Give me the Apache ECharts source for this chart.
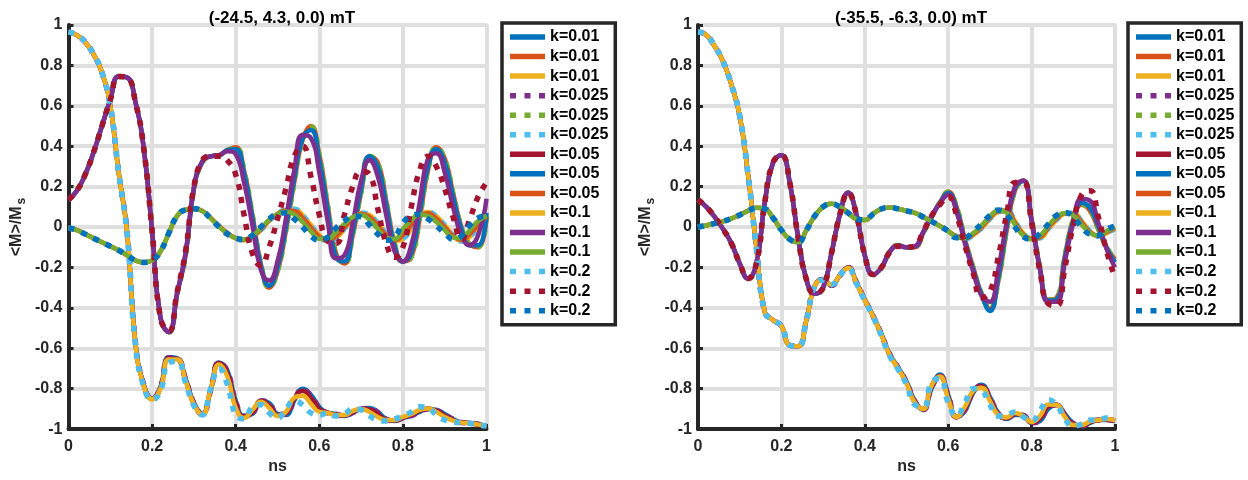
<!DOCTYPE html>
<html><head><meta charset="utf-8">
<script src="https://cdn.jsdelivr.net/npm/echarts@6/dist/echarts.min.js"></script>
<style>html,body{margin:0;padding:0;background:#fff}#c{width:1248px;height:480px}</style>
</head><body><div id="c"></div>
<script>
// time grid (ns)
const T = [0,0.02,0.04,0.06,0.08,0.10,0.12,0.14,0.16,0.18,0.20,0.22,0.24,0.26,0.28,0.30,0.32,0.34,0.36,0.38,0.40,0.42,0.44,0.46,0.48,0.50,0.52,0.54,0.56,0.58,0.60,0.62,0.64,0.66,0.68,0.70,0.72,0.74,0.76,0.78,0.80,0.82,0.84,0.86,0.88,0.90,0.92,0.94,0.96,0.98,1.00];
const TITLES = ['(-24.5, 4.3, 0.0) mT','(-35.5, -6.3, 0.0) mT'];
const LABELS = ['k=0.01','k=0.01','k=0.01','k=0.025','k=0.025','k=0.025','k=0.05','k=0.05','k=0.05','k=0.1','k=0.1','k=0.1','k=0.2','k=0.2','k=0.2'];

// ---------- LEFT panel ----------
const L_MX_001 = [0.965,0.950,0.915,0.855,0.765,0.600,0.270,-0.020,-0.570,-0.780,-0.850,-0.790,-0.645,-0.650,-0.750,-0.870,-0.925,-0.810,-0.670,-0.710,-0.860,-0.935,-0.925,-0.860,-0.870,-0.925,-0.930,-0.860,-0.800,-0.830,-0.890,-0.920,-0.925,-0.935,-0.920,-0.900,-0.895,-0.915,-0.950,-0.960,-0.945,-0.935,-0.915,-0.900,-0.905,-0.925,-0.950,-0.967,-0.970,-0.975,-0.985];
const L_MY_001 = [0.135,0.180,0.260,0.370,0.500,0.630,0.745,0.740,0.620,0.390,-0.020,-0.450,-0.520,-0.330,-0.140,0.190,0.320,0.350,0.355,0.380,0.395,0.280,0.060,-0.180,-0.300,-0.220,-0.020,0.220,0.430,0.500,0.360,0.110,-0.130,-0.180,-0.040,0.170,0.350,0.320,0.130,-0.080,-0.170,-0.150,0.040,0.280,0.395,0.340,0.170,0.000,-0.085,-0.100,0.050];
const L_MZ_001 = [-0.005,-0.015,-0.035,-0.055,-0.075,-0.095,-0.115,-0.140,-0.165,-0.175,-0.165,-0.120,-0.030,0.055,0.085,0.090,0.080,0.045,0.005,-0.030,-0.055,-0.065,-0.050,-0.015,0.030,0.065,0.085,0.090,0.060,0.010,-0.040,-0.070,-0.055,-0.010,0.040,0.070,0.060,0.020,-0.030,-0.070,-0.060,-0.010,0.050,0.075,0.055,0.010,-0.040,-0.070,-0.050,0.000,0.050];
const L_MX_0025 = [0.965,0.950,0.915,0.855,0.765,0.600,0.270,-0.020,-0.570,-0.780,-0.850,-0.792,-0.647,-0.651,-0.752,-0.872,-0.926,-0.809,-0.671,-0.715,-0.865,-0.937,-0.922,-0.860,-0.873,-0.927,-0.927,-0.857,-0.803,-0.835,-0.893,-0.920,-0.926,-0.934,-0.918,-0.900,-0.898,-0.918,-0.951,-0.959,-0.944,-0.933,-0.913,-0.900,-0.907,-0.928,-0.952,-0.967,-0.970,-0.976,-0.985];
const L_MY_0025 = [0.135,0.180,0.260,0.370,0.500,0.630,0.745,0.740,0.620,0.390,-0.020,-0.450,-0.520,-0.328,-0.138,0.190,0.320,0.350,0.355,0.380,0.392,0.275,0.055,-0.183,-0.298,-0.215,-0.015,0.225,0.433,0.495,0.352,0.102,-0.136,-0.178,-0.034,0.177,0.351,0.314,0.123,-0.085,-0.170,-0.145,0.048,0.287,0.393,0.334,0.163,-0.004,-0.087,-0.097,0.057];
const L_MZ_0025 = [-0.005,-0.015,-0.035,-0.055,-0.075,-0.095,-0.115,-0.140,-0.165,-0.175,-0.165,-0.120,-0.030,0.055,0.085,0.090,0.080,0.045,0.005,-0.030,-0.055,-0.065,-0.050,-0.014,0.032,0.066,0.085,0.088,0.057,0.006,-0.043,-0.069,-0.053,-0.007,0.042,0.069,0.058,0.017,-0.033,-0.069,-0.057,-0.006,0.052,0.074,0.052,0.007,-0.043,-0.069,-0.047,0.004,0.052];
const L_MX_005 = [0.965,0.950,0.915,0.855,0.765,0.600,0.270,-0.022,-0.572,-0.782,-0.851,-0.795,-0.650,-0.652,-0.755,-0.875,-0.927,-0.807,-0.673,-0.722,-0.875,-0.940,-0.918,-0.861,-0.880,-0.930,-0.922,-0.852,-0.810,-0.845,-0.900,-0.919,-0.927,-0.933,-0.915,-0.900,-0.902,-0.925,-0.953,-0.958,-0.943,-0.930,-0.910,-0.899,-0.910,-0.932,-0.955,-0.968,-0.970,-0.977,-0.985];
const L_MY_005 = [0.135,0.180,0.260,0.370,0.500,0.630,0.745,0.740,0.620,0.390,-0.020,-0.450,-0.520,-0.328,-0.135,0.192,0.322,0.350,0.355,0.380,0.385,0.265,0.045,-0.190,-0.290,-0.200,0.000,0.240,0.440,0.480,0.330,0.085,-0.150,-0.170,-0.020,0.190,0.350,0.300,0.110,-0.095,-0.170,-0.130,0.070,0.300,0.385,0.320,0.150,-0.010,-0.090,-0.090,0.070];
const L_MZ_005 = [-0.005,-0.015,-0.035,-0.055,-0.075,-0.095,-0.115,-0.140,-0.165,-0.175,-0.165,-0.120,-0.030,0.055,0.085,0.090,0.080,0.045,0.005,-0.030,-0.055,-0.064,-0.048,-0.012,0.033,0.065,0.082,0.080,0.047,-0.002,-0.047,-0.066,-0.045,-0.002,0.044,0.066,0.050,0.008,-0.040,-0.066,-0.040,0.010,0.055,0.068,0.042,0.000,-0.045,-0.064,-0.035,0.012,0.052];
const L_MX_01 = [0.965,0.950,0.915,0.855,0.765,0.600,0.270,-0.025,-0.575,-0.785,-0.852,-0.800,-0.655,-0.655,-0.760,-0.878,-0.928,-0.805,-0.680,-0.740,-0.895,-0.945,-0.905,-0.865,-0.895,-0.935,-0.915,-0.845,-0.835,-0.875,-0.915,-0.920,-0.930,-0.930,-0.910,-0.900,-0.915,-0.940,-0.955,-0.955,-0.940,-0.925,-0.905,-0.898,-0.915,-0.940,-0.958,-0.968,-0.971,-0.978,-0.985];
const L_MY_01 = [0.135,0.180,0.260,0.370,0.500,0.630,0.745,0.740,0.620,0.390,-0.020,-0.450,-0.520,-0.325,-0.130,0.195,0.325,0.350,0.355,0.375,0.360,0.220,0.010,-0.210,-0.265,-0.170,0.040,0.280,0.455,0.440,0.270,0.030,-0.155,-0.140,0.020,0.230,0.330,0.250,0.060,-0.120,-0.170,-0.090,0.120,0.340,0.365,0.270,0.100,-0.040,-0.090,-0.040,0.140];
const L_MZ_01 = [-0.005,-0.015,-0.035,-0.055,-0.075,-0.095,-0.115,-0.140,-0.165,-0.175,-0.165,-0.120,-0.030,0.055,0.085,0.090,0.079,0.043,0.002,-0.033,-0.055,-0.062,-0.044,-0.006,0.036,0.065,0.077,0.062,0.025,-0.022,-0.058,-0.058,-0.025,0.015,0.050,0.060,0.035,-0.010,-0.052,-0.060,-0.010,0.035,0.062,0.055,0.025,-0.015,-0.052,-0.055,-0.015,0.030,0.055];
const L_MX_02 = [0.965,0.950,0.915,0.855,0.765,0.600,0.270,-0.030,-0.580,-0.790,-0.855,-0.810,-0.670,-0.665,-0.770,-0.885,-0.930,-0.800,-0.700,-0.780,-0.930,-0.950,-0.890,-0.880,-0.920,-0.945,-0.900,-0.860,-0.880,-0.920,-0.930,-0.920,-0.935,-0.925,-0.900,-0.905,-0.935,-0.955,-0.960,-0.950,-0.935,-0.915,-0.890,-0.895,-0.930,-0.955,-0.965,-0.970,-0.972,-0.980,-0.985];
const L_MY_02 = [0.135,0.180,0.260,0.370,0.500,0.630,0.745,0.740,0.620,0.390,-0.020,-0.450,-0.515,-0.320,-0.120,0.200,0.330,0.350,0.350,0.330,0.260,0.060,-0.130,-0.190,-0.100,0.040,0.190,0.350,0.400,0.250,0.060,-0.070,-0.080,0.060,0.200,0.275,0.260,0.090,-0.080,-0.150,-0.100,0.100,0.280,0.350,0.300,0.190,0.050,-0.060,0.040,0.150,0.220];
const L_MZ_02 = [-0.005,-0.015,-0.035,-0.055,-0.075,-0.095,-0.115,-0.140,-0.165,-0.175,-0.165,-0.120,-0.030,0.055,0.085,0.090,0.078,0.042,0.000,-0.035,-0.055,-0.060,-0.040,0.000,0.040,0.065,0.070,0.040,0.000,-0.045,-0.065,-0.050,-0.005,0.030,0.055,0.050,0.010,-0.035,-0.065,-0.050,0.020,0.055,0.063,0.040,0.005,-0.030,-0.060,-0.045,0.010,0.045,0.055];

// ---------- RIGHT panel ----------
const R_MX_001 = [0.965,0.950,0.895,0.820,0.705,0.550,0.260,-0.100,-0.420,-0.460,-0.490,-0.585,-0.590,-0.460,-0.290,-0.260,-0.288,-0.240,-0.200,-0.275,-0.360,-0.440,-0.530,-0.630,-0.695,-0.765,-0.860,-0.905,-0.800,-0.730,-0.830,-0.940,-0.910,-0.820,-0.780,-0.840,-0.920,-0.950,-0.930,-0.930,-0.970,-0.960,-0.900,-0.880,-0.925,-0.970,-0.985,-0.970,-0.955,-0.955,-0.960];
const R_MY_001 = [0.135,0.100,0.050,-0.010,-0.080,-0.180,-0.255,-0.180,0.120,0.320,0.355,0.220,-0.050,-0.260,-0.330,-0.300,-0.130,0.060,0.170,0.060,-0.140,-0.235,-0.200,-0.120,-0.090,-0.100,-0.100,-0.030,0.050,0.120,0.175,0.100,-0.060,-0.200,-0.330,-0.405,-0.270,-0.020,0.180,0.230,0.040,-0.200,-0.360,-0.350,-0.140,0.040,0.110,0.080,-0.010,-0.100,-0.160];
const R_MZ_001 = [0.000,0.008,0.018,0.028,0.042,0.060,0.080,0.095,0.090,0.045,-0.015,-0.060,-0.075,-0.015,0.055,0.100,0.115,0.100,0.070,0.040,0.035,0.065,0.090,0.097,0.090,0.080,0.070,0.050,0.028,0.005,-0.020,-0.045,-0.058,-0.040,-0.005,0.040,0.075,0.085,0.030,-0.030,-0.055,-0.055,-0.010,0.035,0.065,0.070,0.030,-0.020,-0.045,-0.030,-0.010];
const R_MX_0025 = [0.965,0.950,0.895,0.820,0.705,0.550,0.260,-0.100,-0.420,-0.460,-0.490,-0.585,-0.590,-0.460,-0.290,-0.260,-0.288,-0.240,-0.200,-0.275,-0.360,-0.441,-0.532,-0.631,-0.697,-0.768,-0.863,-0.903,-0.795,-0.735,-0.835,-0.940,-0.905,-0.817,-0.783,-0.845,-0.923,-0.948,-0.928,-0.932,-0.969,-0.955,-0.895,-0.880,-0.930,-0.973,-0.984,-0.968,-0.955,-0.954,-0.959];
const R_MY_0025 = [0.135,0.100,0.050,-0.010,-0.080,-0.180,-0.255,-0.180,0.120,0.320,0.355,0.220,-0.050,-0.260,-0.330,-0.300,-0.130,0.060,0.170,0.060,-0.140,-0.235,-0.200,-0.121,-0.091,-0.100,-0.098,-0.028,0.051,0.120,0.172,0.096,-0.065,-0.204,-0.332,-0.405,-0.262,-0.012,0.185,0.229,0.036,-0.203,-0.361,-0.352,-0.145,0.037,0.113,0.085,-0.007,-0.101,-0.165];
const R_MZ_0025 = [0.000,0.008,0.018,0.028,0.042,0.060,0.080,0.095,0.090,0.045,-0.015,-0.060,-0.075,-0.015,0.055,0.100,0.115,0.100,0.070,0.040,0.035,0.065,0.090,0.097,0.090,0.080,0.070,0.050,0.028,0.005,-0.020,-0.046,-0.057,-0.038,-0.003,0.042,0.076,0.083,0.027,-0.033,-0.056,-0.053,-0.007,0.038,0.066,0.068,0.027,-0.022,-0.045,-0.028,-0.008];
const R_MX_005 = [0.965,0.950,0.895,0.820,0.705,0.550,0.260,-0.100,-0.420,-0.460,-0.490,-0.585,-0.590,-0.460,-0.290,-0.260,-0.288,-0.240,-0.200,-0.275,-0.360,-0.442,-0.533,-0.633,-0.698,-0.770,-0.866,-0.902,-0.790,-0.737,-0.840,-0.941,-0.900,-0.814,-0.788,-0.850,-0.926,-0.946,-0.925,-0.933,-0.967,-0.948,-0.888,-0.880,-0.934,-0.976,-0.983,-0.966,-0.955,-0.953,-0.958];
const R_MY_005 = [0.135,0.100,0.050,-0.010,-0.080,-0.180,-0.255,-0.180,0.120,0.320,0.355,0.220,-0.050,-0.260,-0.330,-0.300,-0.130,0.060,0.170,0.060,-0.140,-0.235,-0.200,-0.122,-0.092,-0.100,-0.097,-0.026,0.052,0.119,0.168,0.090,-0.070,-0.210,-0.336,-0.415,-0.250,0.000,0.192,0.228,0.032,-0.206,-0.364,-0.358,-0.152,0.032,0.120,0.095,0.005,-0.103,-0.175];
const R_MZ_005 = [0.000,0.008,0.018,0.028,0.042,0.060,0.080,0.095,0.090,0.045,-0.015,-0.060,-0.075,-0.015,0.055,0.100,0.115,0.100,0.070,0.040,0.035,0.065,0.090,0.097,0.090,0.080,0.070,0.050,0.028,0.005,-0.020,-0.047,-0.056,-0.036,0.000,0.045,0.078,0.080,0.022,-0.036,-0.058,-0.050,-0.003,0.042,0.068,0.065,0.022,-0.025,-0.044,-0.025,-0.005];
const R_MX_01 = [0.965,0.950,0.895,0.820,0.705,0.550,0.260,-0.100,-0.420,-0.460,-0.490,-0.585,-0.590,-0.460,-0.290,-0.261,-0.287,-0.239,-0.203,-0.278,-0.362,-0.443,-0.535,-0.635,-0.700,-0.773,-0.870,-0.900,-0.785,-0.740,-0.850,-0.940,-0.890,-0.810,-0.795,-0.860,-0.930,-0.942,-0.920,-0.935,-0.965,-0.935,-0.878,-0.880,-0.940,-0.980,-0.980,-0.962,-0.955,-0.950,-0.957];
const R_MY_01 = [0.135,0.100,0.050,-0.010,-0.080,-0.180,-0.255,-0.180,0.120,0.320,0.355,0.220,-0.050,-0.260,-0.330,-0.300,-0.130,0.060,0.170,0.060,-0.140,-0.235,-0.200,-0.123,-0.093,-0.100,-0.095,-0.024,0.053,0.117,0.160,0.075,-0.080,-0.220,-0.340,-0.370,-0.210,0.020,0.200,0.230,0.030,-0.210,-0.370,-0.370,-0.170,0.020,0.140,0.130,0.020,-0.110,-0.200];
const R_MZ_01 = [0.000,0.008,0.018,0.028,0.042,0.060,0.080,0.095,0.090,0.045,-0.015,-0.060,-0.075,-0.015,0.055,0.100,0.115,0.100,0.070,0.040,0.035,0.065,0.090,0.097,0.090,0.080,0.070,0.050,0.028,0.005,-0.020,-0.050,-0.055,-0.030,0.008,0.052,0.082,0.072,0.012,-0.042,-0.060,-0.042,0.005,0.050,0.070,0.058,0.012,-0.030,-0.042,-0.020,0.000];
const R_MX_02 = [0.965,0.950,0.895,0.820,0.705,0.550,0.260,-0.100,-0.420,-0.460,-0.490,-0.585,-0.590,-0.460,-0.290,-0.262,-0.285,-0.238,-0.205,-0.280,-0.365,-0.445,-0.540,-0.640,-0.705,-0.780,-0.880,-0.890,-0.770,-0.750,-0.870,-0.935,-0.870,-0.800,-0.810,-0.880,-0.935,-0.930,-0.915,-0.940,-0.960,-0.910,-0.855,-0.880,-0.950,-0.985,-0.975,-0.955,-0.955,-0.945,-0.955];
const R_MY_02 = [0.135,0.100,0.050,-0.010,-0.080,-0.180,-0.255,-0.180,0.120,0.320,0.355,0.220,-0.050,-0.260,-0.330,-0.300,-0.130,0.060,0.170,0.060,-0.140,-0.235,-0.200,-0.124,-0.095,-0.100,-0.093,-0.022,0.055,0.110,0.150,0.060,-0.090,-0.230,-0.350,-0.320,-0.150,0.060,0.220,0.220,0.020,-0.220,-0.380,-0.390,-0.200,0.010,0.160,0.180,0.050,-0.120,-0.250];
const R_MZ_02 = [0.000,0.008,0.018,0.028,0.042,0.060,0.080,0.095,0.090,0.045,-0.015,-0.060,-0.075,-0.015,0.055,0.100,0.115,0.100,0.070,0.040,0.035,0.065,0.090,0.097,0.090,0.080,0.070,0.050,0.028,0.005,-0.020,-0.053,-0.052,-0.022,0.016,0.058,0.085,0.062,0.000,-0.048,-0.060,-0.032,0.014,0.058,0.072,0.050,0.000,-0.035,-0.040,-0.012,0.005];

const LEFT_SETS = [L_MX_001,L_MY_001,L_MZ_001,L_MX_0025,L_MY_0025,L_MZ_0025,L_MX_005,L_MY_005,L_MZ_005,L_MX_01,L_MY_01,L_MZ_01,L_MX_02,L_MY_02,L_MZ_02];
const RIGHT_SETS = [R_MX_001,R_MY_001,R_MZ_001,R_MX_0025,R_MY_0025,R_MZ_0025,R_MX_005,R_MY_005,R_MZ_005,R_MX_01,R_MY_01,R_MZ_01,R_MX_02,R_MY_02,R_MZ_02];

// styles
const COLORS = ['#0072BD','#D95319','#EDB120','#7E2F8E','#77AC30','#4DBEEE','#A2142F','#0072BD','#D95319','#EDB120','#7E2F8E','#77AC30','#4DBEEE','#A2142F','#0072BD'];
const DOTTED = [0,0,0,1,1,1,0,0,0,0,0,0,1,1,1];
const FONT = '"Liberation Sans", Arial, Helvetica, sans-serif';
const INK = '#262626';
const ICON_SOLID = 'path://M0 0H35V5.5H0Z';
const ICON_DOTTED = 'path://M0 0H6V5.5H0ZM14.5 0H20.5V5.5H14.5ZM29 0H35V5.5H29Z';

function makeSeries(prefix, sets, gi) {
  return sets.map((ys, i) => ({
    name: prefix + i, type: 'line', xAxisIndex: gi, yAxisIndex: gi,
    data: T.map((t, j) => [t, ys[j]]),
    symbol: 'none', showSymbol: false, smooth: 0.5,
    lineStyle: { color: COLORS[i], width: DOTTED[i] ? 5.5 : 4.5, type: DOTTED[i] ? [6, 7.5] : 'solid', cap: 'butt' },
    itemStyle: { color: COLORS[i] },
    emphasis: { disabled: true }
  }));
}

const grids = [
  { left: 68.5, top: 25, width: 418, height: 406 },
  { left: 698, top: 25, width: 417, height: 406 }
];

function xAxis(gi) {
  return {
    type: 'value', gridIndex: gi, min: 0, max: 1, interval: 0.2,
    name: 'ns', nameLocation: 'middle', nameGap: 29,
    nameTextStyle: { fontFamily: FONT, fontSize: 16, fontWeight: 'bold', color: INK },
    axisLine: { onZero: false, lineStyle: { color: INK, width: 4 } },
    axisTick: { inside: true, length: 5, lineStyle: { color: INK, width: 3 } },
    axisLabel: { margin: 9, fontFamily: FONT, fontSize: 16, fontWeight: 'bold', color: INK },
    splitLine: { show: true, lineStyle: { color: '#dfdfdf', width: 4 } }
  };
}
function yAxis(gi) {
  return {
    type: 'value', gridIndex: gi, min: -1, max: 1, interval: 0.2,
    name: '{a|<M>/M}{s|s}', nameLocation: 'middle', nameGap: 42,
    nameTextStyle: {
      fontFamily: FONT, fontSize: 16, fontWeight: 'bold', color: INK,
      rich: {
        a: { fontFamily: FONT, fontSize: 16, fontWeight: 'bold', color: INK, lineHeight: 20 },
        s: { fontFamily: FONT, fontSize: 12, fontWeight: 'bold', color: INK, lineHeight: 12, padding: [10, 0, 0, 2] }
      }
    },
    axisLine: { onZero: false, lineStyle: { color: INK, width: 4 } },
    axisTick: { inside: true, length: 5, lineStyle: { color: INK, width: 3 } },
    axisLabel: { margin: 6, fontFamily: FONT, fontSize: 16, fontWeight: 'bold', color: INK },
    splitLine: { show: true, lineStyle: { color: '#dfdfdf', width: 4 } }
  };
}

const leftSeries = makeSeries('L', LEFT_SETS, 0);
const rightSeries = makeSeries('R', RIGHT_SETS, 1);

function legend(prefix, left) {
  return {
    data: LABELS.map((_, i) => ({ name: prefix + i, icon: DOTTED[i] ? ICON_DOTTED : ICON_SOLID })),
    orient: 'vertical', left: left, top: 23, padding: [6, 7, 6, 8],
    itemWidth: 35, itemHeight: 14, itemGap: 3.55,
    borderColor: INK, borderWidth: 3.5, backgroundColor: '#fff',
    selectedMode: false,
    textStyle: { fontFamily: FONT, fontSize: 16, fontWeight: 'bold', color: '#000', lineHeight: 14 },
    formatter: n => LABELS[+n.slice(1)]
  };
}

const chart = echarts.init(document.getElementById('c'), null, { renderer: 'canvas' });
chart.setOption({
  animation: false,
  backgroundColor: '#fff',
  title: [
    { text: TITLES[0], left: 277, top: 5, textAlign: 'center', textStyle: { fontFamily: FONT, fontSize: 17, fontWeight: 'bold', color: '#000' } },
    { text: TITLES[1], left: 906, top: 5, textAlign: 'center', textStyle: { fontFamily: FONT, fontSize: 17, fontWeight: 'bold', color: '#000' } }
  ],
  grid: grids.map(g => Object.assign({ show: true, borderColor: '#dfdfdf', borderWidth: 3, containLabel: false }, g)),
  xAxis: [xAxis(0), xAxis(1)],
  yAxis: [yAxis(0), yAxis(1)],
  legend: [legend('L', 502), legend('R', 1128)],
  series: leftSeries.concat(rightSeries)
});
</script>
</body></html>
